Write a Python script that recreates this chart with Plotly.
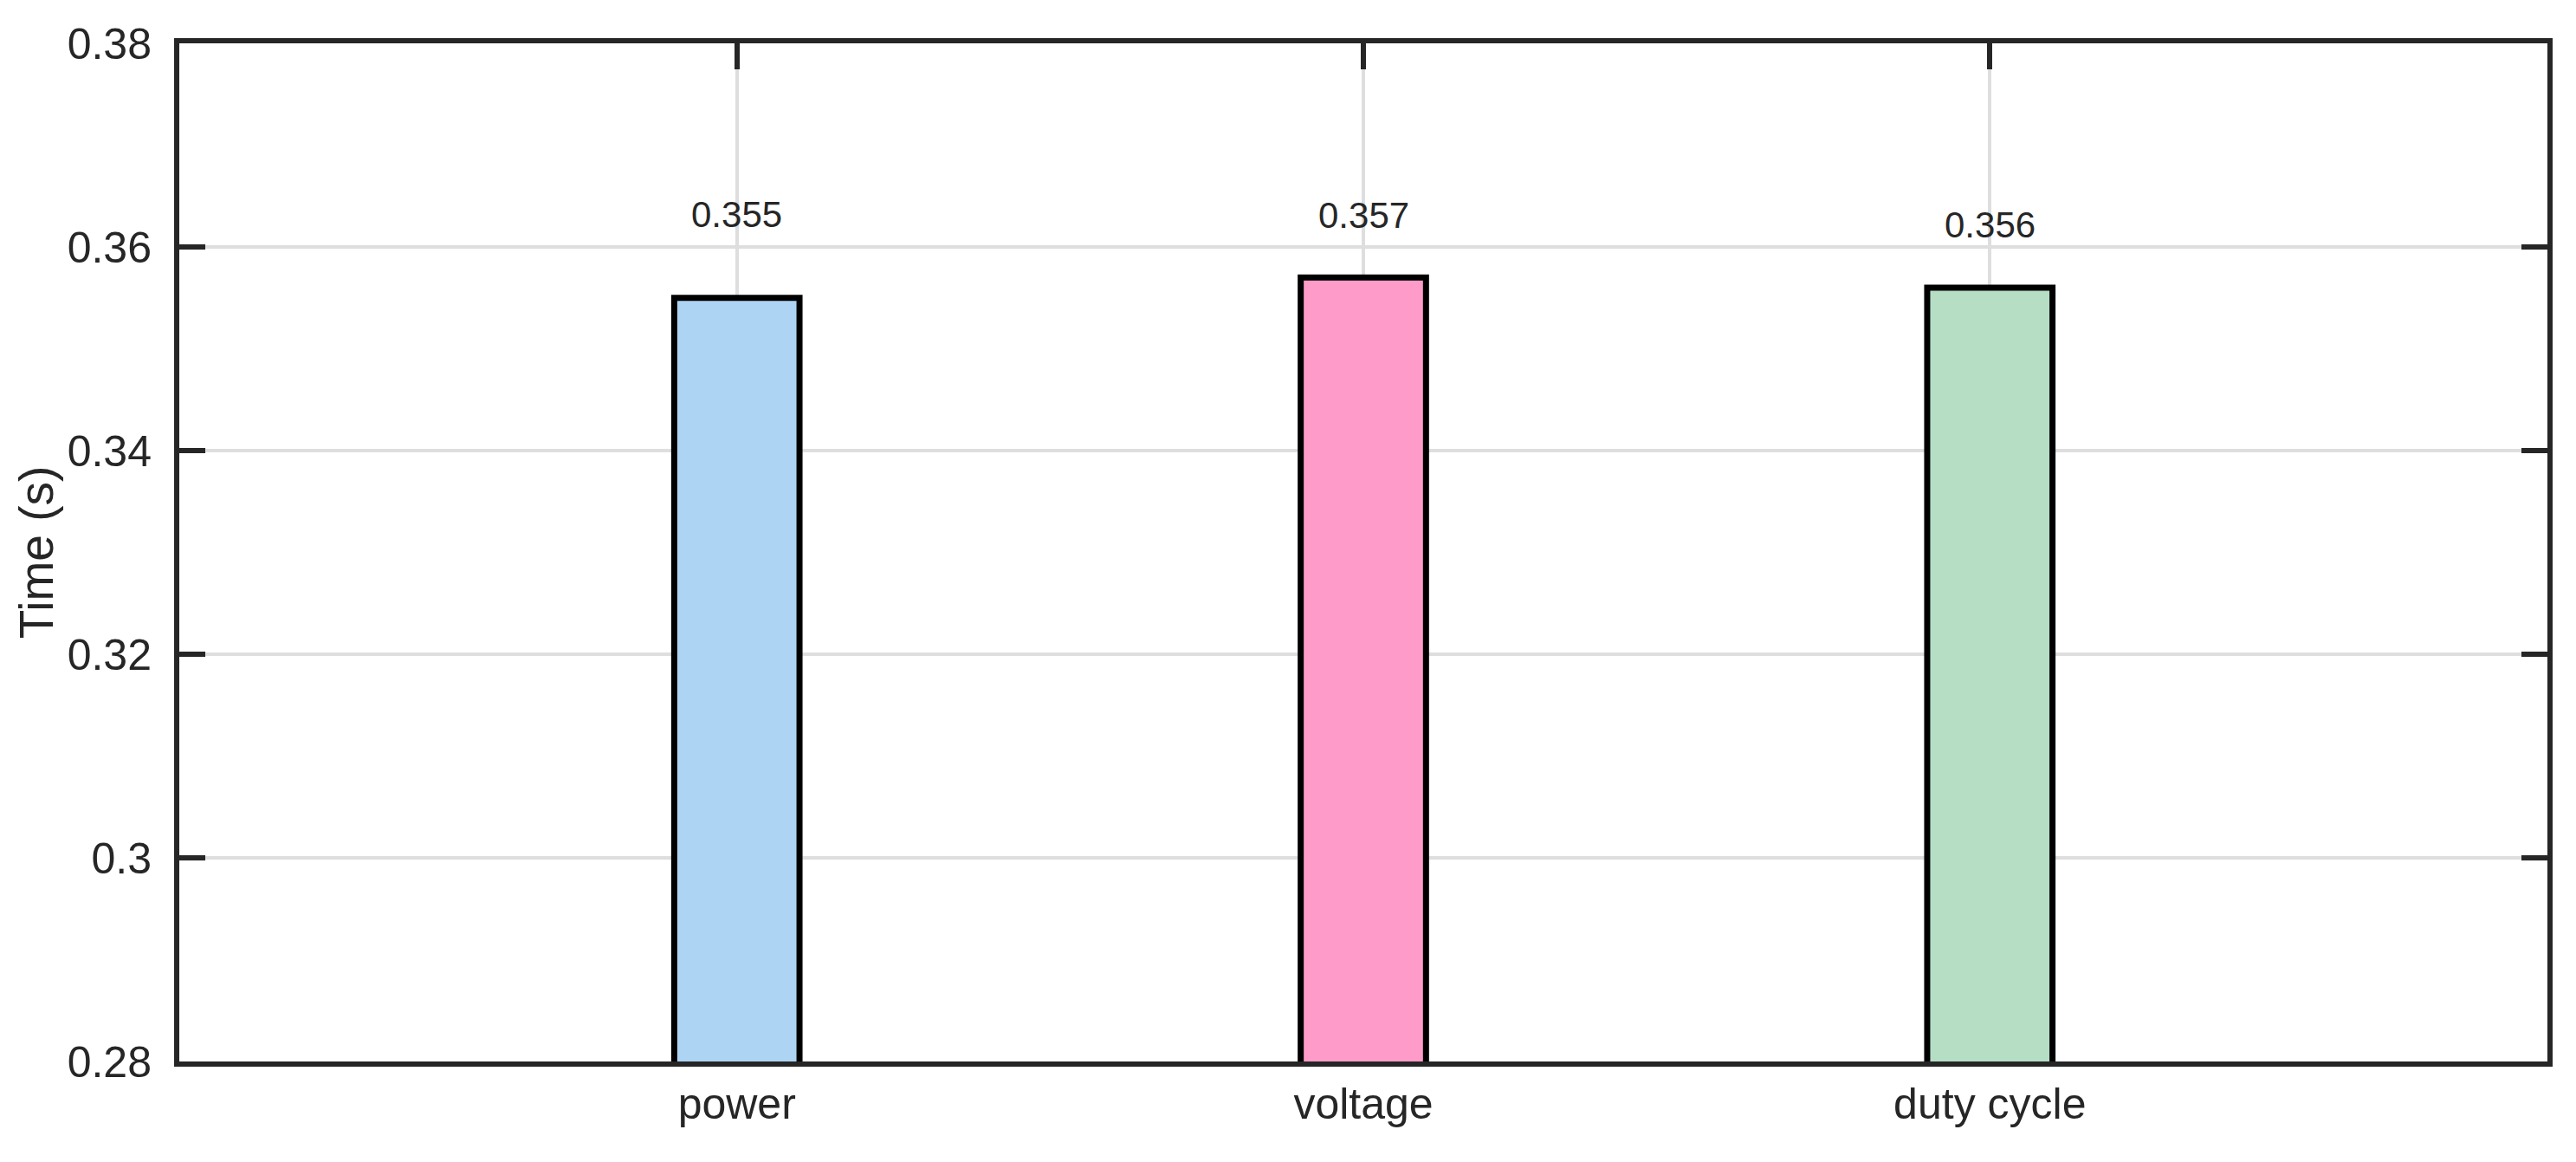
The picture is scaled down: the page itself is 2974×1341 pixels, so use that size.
import plotly.graph_objects as go

# bar data
categories = ["power", "voltage", "duty cycle"]
times = [0.355, 0.357, 0.356]
value_labels = ["0.355", "0.357", "0.356"]
bar_colors = ["#AED4F3", "#FF9BC8", "#B5DEC5"]

y_ticks = [0.28, 0.30, 0.32, 0.34, 0.36, 0.38]
y_tick_labels = ["0.28", "0.3", "0.32", "0.34", "0.36", "0.38"]

# pixel lift of each value label above its bar top
label_lift = [96, 72, 73]

FONT = "Liberation Sans, Arial, sans-serif"
INK = "#262626"


def build_figure():
    fig = go.Figure(
        data=[go.Bar(
            x=categories,
            y=times,
            base=0,
            width=0.2,
            marker=dict(
                color=bar_colors,
                line=dict(color="#000000", width=7),
            ),
            showlegend=False,
        )]
    )

    for cat, val, lab, lift in zip(categories, times, value_labels, label_lift):
        fig.add_annotation(
            x=cat, y=val, text=lab,
            showarrow=False, yanchor="middle", yshift=lift,
            font=dict(family=FONT, size=42, color=INK),
        )

    axis_common = dict(
        showline=True,
        linecolor=INK,
        linewidth=6,
        mirror="ticks",
        ticks="inside",
        ticklen=30,
        tickwidth=6,
        tickcolor=INK,
        showgrid=True,
        gridcolor="#DEDEDE",
        gridwidth=4,
        zeroline=False,
        layer="below traces",
        tickfont=dict(family=FONT, size=50, color=INK),
    )

    fig.update_xaxes(
        range=[-0.89, 2.89],
        ticklabelstandoff=0,
        **axis_common,
    )
    fig.update_yaxes(
        range=[0.28, 0.38],
        tickvals=y_ticks,
        ticktext=y_tick_labels,
        ticklabelstandoff=16,
        title=dict(text="Time (s)", font=dict(family=FONT, size=55, color=INK), standoff=0),
        **axis_common,
    )

    fig.update_layout(
        width=2974,
        height=1341,
        margin=dict(l=199, r=41, t=42, b=124),
        plot_bgcolor="#FFFFFF",
        paper_bgcolor="#FFFFFF",
    )
    return fig


def main():
    fig = build_figure()
    fig.write_html("out.html")


if __name__ == "__main__":
    main()
